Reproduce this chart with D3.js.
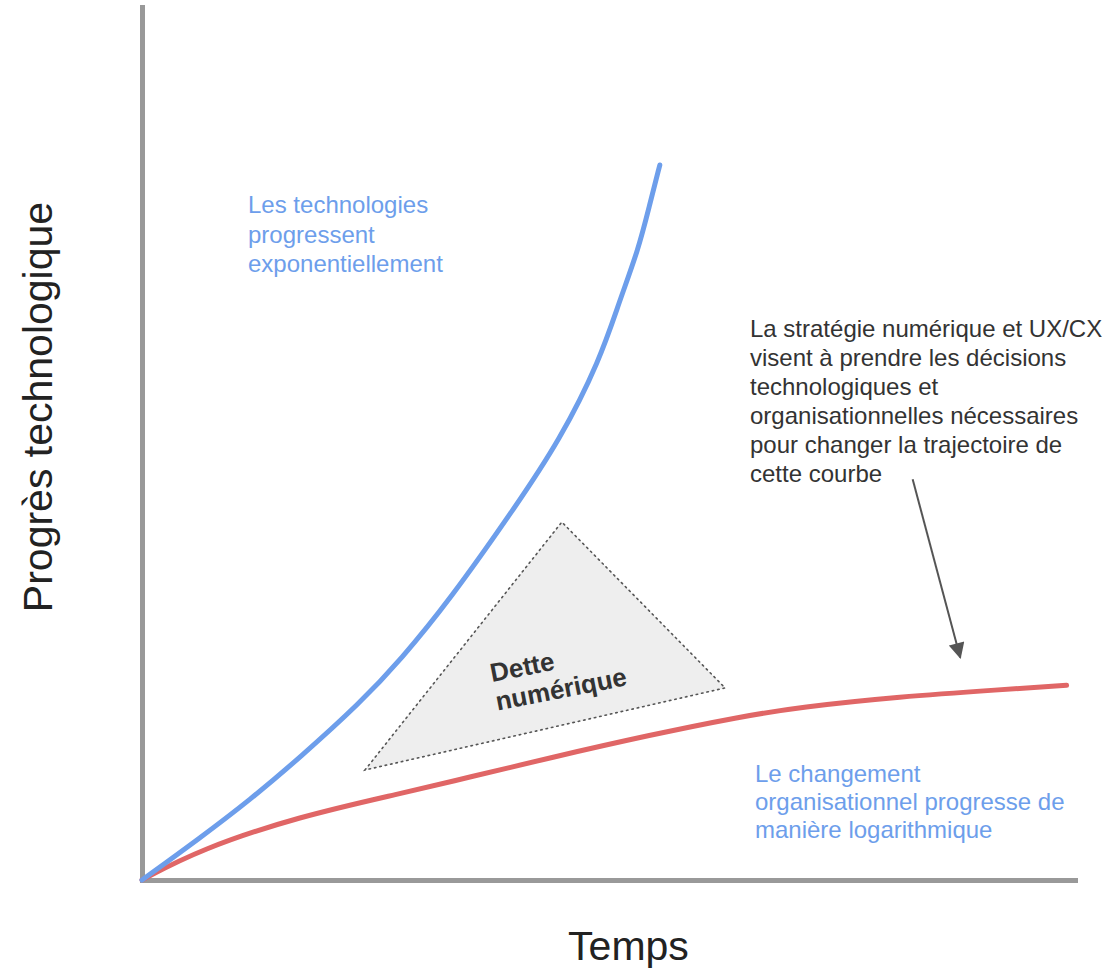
<!DOCTYPE html>
<html>
<head>
<meta charset="utf-8">
<script src="https://cdn.jsdelivr.net/npm/d3@7"></script>
<style>
  html, body { margin: 0; padding: 0; background: #fff; }
  svg { display: block; font-family: "Liberation Sans", Arial, sans-serif; }
</style>
</head>
<body>
<svg id="chart" width="1119" height="973"></svg>
<script>
// ---- Data (conceptual curves; domain 0..100 both axes) ----
const techX   = [0, 6.2, 11.6, 16.9, 23.4, 27.7, 33.0, 39.8, 44.8, 49.1, 51.2, 53.2, 54.4, 55.5];
const techY   = [0, 4.8,  9.2, 14.0, 20.3, 25.2, 32.1, 42.4, 50.4, 59.6, 66.4, 72.2, 77.3, 81.9];
const orgX    = [0, 6.2, 16.9, 27.7, 35.2, 43.7, 54.4, 64.1, 70.5, 81.2, 92.0, 99.1];
const orgY    = [0, 3.5,  7.3,  9.9, 11.8, 14.0, 16.6, 18.7, 19.8, 21.0, 21.8, 22.3];
const debtX   = [23.9, 45.0, 62.5];
const debtY   = [12.6, 41.0, 22.0];
const arrowX  = [82.6, 87.7];
const arrowY  = [45.9, 25.5];

const xLabel = "Temps";
const yLabel = "Progrès technologique";
const techNote = ["Les technologies", "progressent", "exponentiellement"];
const orgNote = ["Le changement", "organisationnel progresse de", "manière logarithmique"];
const stratNote = ["La stratégie numérique et UX/CX", "visent à prendre les décisions",
                   "technologiques et", "organisationnelles nécessaires",
                   "pour changer la trajectoire de", "cette courbe"];
const debtLabel = ["Dette", "numérique"];

// ---- Layout ----
const svg = d3.select("#chart");
const x = d3.scaleLinear().domain([0, 100]).range([142, 1075]);
const y = d3.scaleLinear().domain([0, 100]).range([880, 7]);

const BLUE = "#6d9eeb", RED = "#e06666", GRAY = "#999999";

// Axes (no ticks, just domain lines)
const gx = svg.append("g").attr("transform", `translate(0,${y(0)})`)
  .call(d3.axisBottom(x).tickValues([]).tickSizeOuter(0));
const gy = svg.append("g").attr("transform", `translate(${x(0)},0)`)
  .call(d3.axisLeft(y).tickValues([]).tickSizeOuter(0));
[gx, gy].forEach(g => g.select(".domain")
  .attr("stroke", GRAY).attr("stroke-width", 5).attr("stroke-linecap", "square"));

// Debt triangle
const tri = debtX.map((d, i) => [x(d), y(debtY[i])]);
svg.append("path")
  .attr("d", "M" + tri.join("L") + "Z")
  .attr("fill", "#eeeeee")
  .attr("stroke", "#555")
  .attr("stroke-width", 1.6)
  .attr("stroke-dasharray", "1.5,4")
  .attr("stroke-linecap", "round");

// Curves
const line = d3.line().x(d => x(d[0])).y(d => y(d[1])).curve(d3.curveBasis);
svg.append("path")
  .attr("d", line(orgX.map((d, i) => [d, orgY[i]])))
  .attr("fill", "none").attr("stroke", RED).attr("stroke-width", 5).attr("stroke-linecap", "round");
svg.append("path")
  .attr("d", line(techX.map((d, i) => [d, techY[i]])))
  .attr("fill", "none").attr("stroke", BLUE).attr("stroke-width", 5).attr("stroke-linecap", "round");

// Arrow
svg.append("defs").append("marker")
  .attr("id", "arrow").attr("viewBox", "0 0 10 10")
  .attr("refX", 9).attr("refY", 5)
  .attr("markerWidth", 19).attr("markerHeight", 16)
  .attr("markerUnits", "userSpaceOnUse")
  .attr("orient", "auto")
  .append("path").attr("d", "M0,0L10,5L0,10Z").attr("fill", "#555");
svg.append("line")
  .attr("x1", x(arrowX[0])).attr("y1", y(arrowY[0]))
  .attr("x2", x(arrowX[1])).attr("y2", y(arrowY[1]))
  .attr("stroke", "#555").attr("stroke-width", 2)
  .attr("marker-end", "url(#arrow)");

// Multi-line text helper
function block(lines, px, py, lh, opts) {
  const t = svg.append("text")
    .attr("x", px).attr("y", py)
    .attr("font-size", opts.size).attr("fill", opts.color)
    .attr("font-weight", opts.weight || "normal");
  lines.forEach((s, i) => t.append("tspan").attr("x", px).attr("y", py + i * lh).text(s));
  return t;
}

block(techNote, 248, 213, 29.5, { size: 24, color: BLUE });
block(orgNote, 755, 782, 28, { size: 24, color: BLUE });
block(stratNote, 750, 337, 29, { size: 24, color: "#333" });

// Debt label (rotated)
const dg = svg.append("g").attr("transform", "translate(492,682) rotate(-11)");
const dt = dg.append("text").attr("font-size", 26).attr("font-weight", "bold").attr("fill", "#333");
debtLabel.forEach((s, i) => dt.append("tspan").attr("x", 0).attr("y", i * 29).text(s));

// Axis titles
svg.append("text")
  .attr("x", (x(0) + x(100)) / 2 + 20).attr("y", 960)
  .attr("text-anchor", "middle")
  .attr("font-size", 41).attr("fill", "#222")
  .text(xLabel);
svg.append("text")
  .attr("transform", "translate(52,407) rotate(-90)")
  .attr("text-anchor", "middle")
  .attr("font-size", 41).attr("fill", "#222")
  .text(yLabel);
</script>
</body>
</html>
